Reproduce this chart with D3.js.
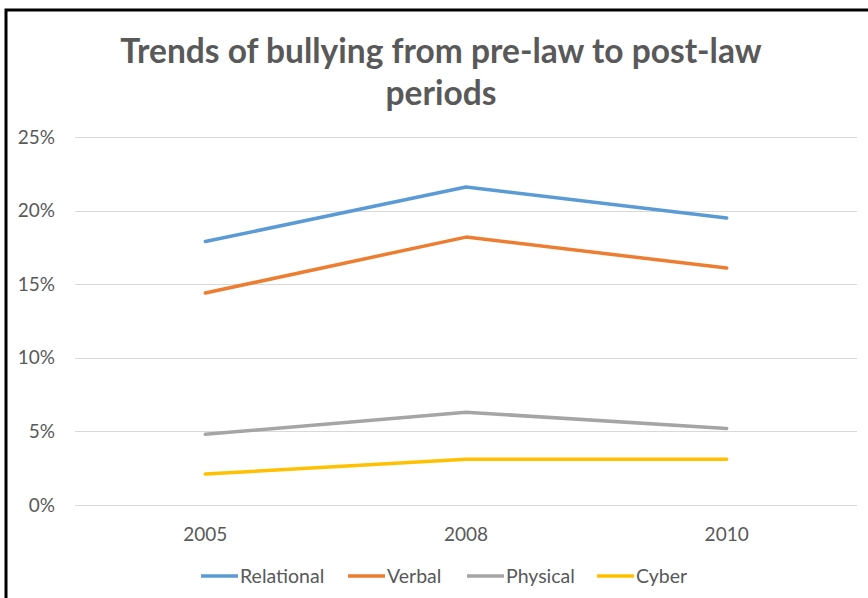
<!DOCTYPE html>
<html>
<head>
<meta charset="utf-8">
<script src="https://cdn.jsdelivr.net/npm/d3@7"></script>
<style>
  html, body { margin: 0; padding: 0; background: #fff; }
  svg { display: block; }
  text { font-family: Lato, "Open Sans", sans-serif; }
</style>
</head>
<body>
<script>
const years = ["2005", "2008", "2010"];
const seriesNames = ["Relational", "Verbal", "Physical", "Cyber"];
const relational = [0.179, 0.216, 0.195];
const verbal = [0.144, 0.182, 0.161];
const physical = [0.048, 0.063, 0.052];
const cyber = [0.021, 0.031, 0.031];
const yTicks = [0, 0.05, 0.10, 0.15, 0.20, 0.25];
const colors = ["#5b9bd5", "#ed7d31", "#a5a5a5", "#ffc000"];
const titleLines = ["Trends of bullying from pre-law to post-law", "periods"];

const W = 868, H = 598;
const svg = d3.select("body").append("svg").attr("width", W).attr("height", H);
svg.append("rect").attr("width", W).attr("height", H).attr("fill", "#fff");

// chart border
svg.append("path")
  .attr("d", `M6,${H + 5} L6,10 L${W + 5},10`)
  .attr("fill", "none").attr("stroke", "#000").attr("stroke-width", 3);

const x = d3.scaleBand().domain(years).range([75, 857]);
const y = d3.scaleLinear().domain([0, 0.25]).range([505, 137]);

// gridlines
svg.append("g").selectAll("line").data(yTicks).join("line")
  .attr("x1", 75).attr("x2", 857)
  .attr("y1", d => Math.round(y(d)) + 0.5).attr("y2", d => Math.round(y(d)) + 0.5)
  .attr("stroke", "#d9d9d9").attr("stroke-width", 1);

// y axis labels
const yAxis = d3.axisLeft(y).tickValues(yTicks).tickFormat(d3.format(".0%")).tickSize(0).tickPadding(0);
const yg = svg.append("g").attr("transform", "translate(55,0)").call(yAxis);
yg.select(".domain").remove();
yg.selectAll("text").attr("fill", "#595959").style("font-size", "19px").style("font-family", "Lato, sans-serif");

// x axis labels
const xAxis = d3.axisBottom(x).tickSize(0).tickPadding(0);
const xg = svg.append("g").attr("transform", "translate(0,527)").call(xAxis);
xg.select(".domain").remove();
xg.selectAll("text").attr("fill", "#595959").style("font-size", "19px").style("font-family", "Lato, sans-serif");

// lines
const data = [relational, verbal, physical, cyber];
const line = d3.line().x((d, i) => x(years[i]) + x.bandwidth() / 2).y(d => y(d));
svg.append("g").selectAll("path").data(data).join("path")
  .attr("d", d => line(d))
  .attr("fill", "none")
  .attr("stroke", (d, i) => colors[i])
  .attr("stroke-width", 3.5)
  .attr("stroke-linecap", "round")
  .attr("stroke-linejoin", "round");

// title
const title = svg.append("text").attr("x", 441).attr("text-anchor", "middle")
  .attr("fill", "#595959").style("font-size", "33.5px").style("font-weight", "bold");
title.selectAll("tspan").data(titleLines).join("tspan")
  .attr("x", 441).attr("y", (d, i) => 63 + i * 42).text(d => d);

// legend
const legendX = [201, 348, 467, 597];
const lg = svg.append("g").selectAll("g").data(seriesNames).join("g")
  .attr("transform", (d, i) => `translate(${legendX[i]},576)`);
lg.append("line").attr("x1", 0).attr("x2", 37).attr("y1", 0).attr("y2", 0)
  .attr("stroke", (d, i) => colors[i]).attr("stroke-width", 3.5);
lg.append("text").attr("x", 39).attr("y", 7).attr("fill", "#595959")
  .style("font-size", "19.5px").text(d => d);
</script>
</body>
</html>
